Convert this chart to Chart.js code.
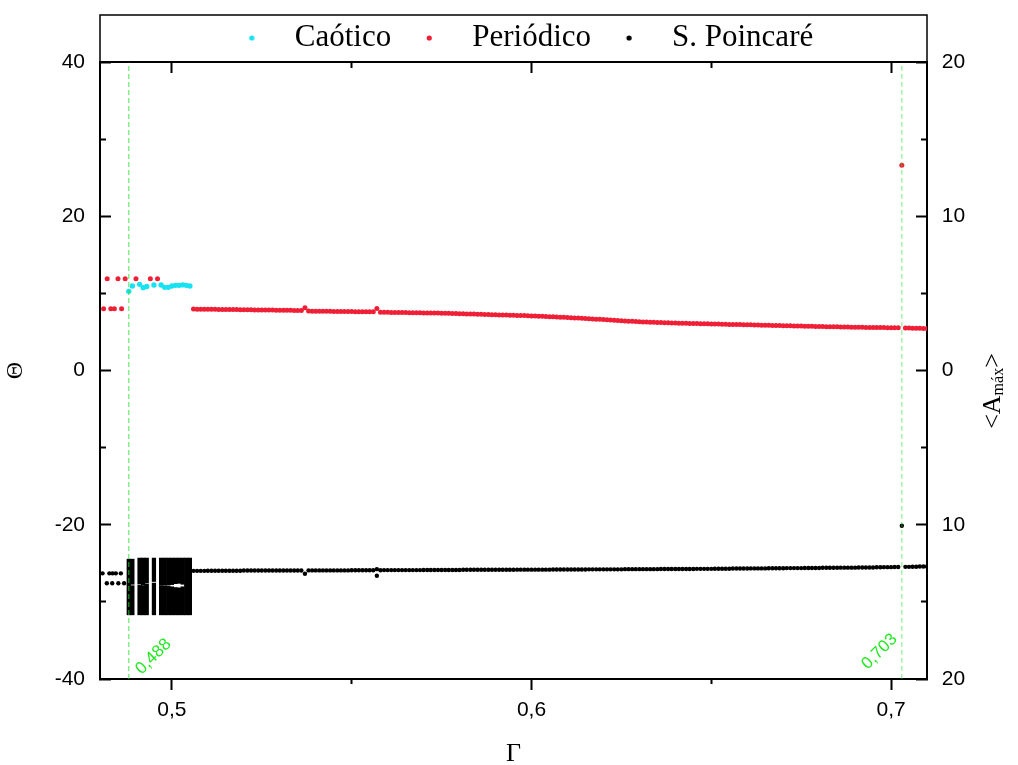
<!DOCTYPE html>
<html><head><meta charset="utf-8">
<script src="https://cdn.jsdelivr.net/npm/chart.js@4.4.1/dist/chart.umd.min.js"></script>
<style>html,body{margin:0;padding:0;background:#fff;}canvas{display:block;}</style>
</head><body>
<canvas id="c" width="1018" height="765"></canvas>
<script>
// ---------------- data ----------------
const seriesNames = ['Caótico', 'Periódico', 'S. Poincaré'];

const chaoticGamma = [0.488,0.489,0.491,0.492,0.493,0.495,0.497,0.498,0.499,0.500,0.501,0.502,0.503,0.504,0.505];
const chaoticTheta = [10.26,10.95,11.17,10.74,10.90,11.08,11.08,10.78,10.78,10.95,11.04,11.04,11.10,11.04,10.95];

const periodicLeftGamma = [0.481,0.482,0.483,0.484,0.485,0.486,0.487,0.490,0.494,0.496];
const periodicLeftTheta = [8.01,11.9,8.01,8.01,11.9,8.01,11.9,11.9,11.9,11.9];

const mainGamma = [
0.506,0.507,0.508,0.509,0.510,0.511,0.512,0.513,0.514,0.515,
0.516,0.517,0.518,0.519,0.520,0.521,0.522,0.523,0.524,0.525,
0.526,0.527,0.528,0.529,0.530,0.531,0.532,0.533,0.534,0.535,
0.536,0.537,0.538,0.539,0.540,0.541,0.542,0.543,0.544,0.545,
0.546,0.547,0.548,0.549,0.550,0.551,0.552,0.553,0.554,0.555,
0.556,0.557,0.558,0.559,0.560,0.561,0.562,0.563,0.564,0.565,
0.566,0.567,0.568,0.569,0.570,0.571,0.572,0.573,0.574,0.575,
0.576,0.577,0.578,0.579,0.580,0.581,0.582,0.583,0.584,0.585,
0.586,0.587,0.588,0.589,0.590,0.591,0.592,0.593,0.594,0.595,
0.596,0.597,0.598,0.599,0.600,0.601,0.602,0.603,0.604,0.605,
0.606,0.607,0.608,0.609,0.610,0.611,0.612,0.613,0.614,0.615,
0.616,0.617,0.618,0.619,0.620,0.621,0.622,0.623,0.624,0.625,
0.626,0.627,0.628,0.629,0.630,0.631,0.632,0.633,0.634,0.635,
0.636,0.637,0.638,0.639,0.640,0.641,0.642,0.643,0.644,0.645,
0.646,0.647,0.648,0.649,0.650,0.651,0.652,0.653,0.654,0.655,
0.656,0.657,0.658,0.659,0.660,0.661,0.662,0.663,0.664,0.665,
0.666,0.667,0.668,0.669,0.670,0.671,0.672,0.673,0.674,0.675,
0.676,0.677,0.678,0.679,0.680,0.681,0.682,0.683,0.684,0.685,
0.686,0.687,0.688,0.689,0.690,0.691,0.692,0.693,0.694,0.695,
0.696,0.697,0.698,0.699,0.700,0.701,0.702,0.703,0.704,0.705,
0.706,0.707,0.708,0.709,0.710];

const periodicMainTheta = [
7.96,7.95,7.95,7.94,7.94,7.93,7.93,7.92,7.92,7.91,
7.91,7.90,7.90,7.89,7.88,7.88,7.87,7.86,7.86,7.85,
7.84,7.84,7.83,7.82,7.82,7.81,7.80,7.80,7.79,7.78,
7.78,8.14,7.70,7.69,7.69,7.68,7.68,7.67,7.67,7.66,
7.66,7.65,7.65,7.64,7.64,7.63,7.63,7.62,7.62,7.61,
7.61,8.05,7.55,7.54,7.54,7.53,7.53,7.52,7.51,7.51,
7.50,7.49,7.49,7.48,7.47,7.46,7.46,7.45,7.44,7.43,
7.42,7.41,7.40,7.39,7.37,7.36,7.34,7.32,7.31,7.30,
7.28,7.27,7.26,7.24,7.23,7.21,7.20,7.19,7.17,7.16,
7.14,7.13,7.12,7.10,7.08,7.06,7.04,7.02,7.00,6.98,
6.96,6.94,6.92,6.90,6.88,6.85,6.82,6.80,6.77,6.75,
6.72,6.69,6.66,6.63,6.60,6.57,6.54,6.51,6.48,6.45,
6.42,6.39,6.37,6.34,6.32,6.30,6.28,6.26,6.24,6.22,
6.21,6.19,6.18,6.17,6.16,6.14,6.13,6.12,6.10,6.09,
6.08,6.07,6.06,6.05,6.04,6.03,6.02,6.00,5.99,5.98,
5.97,5.96,5.95,5.94,5.93,5.92,5.90,5.89,5.88,5.87,
5.86,5.85,5.84,5.83,5.81,5.80,5.79,5.78,5.77,5.76,
5.75,5.74,5.73,5.72,5.71,5.70,5.68,5.67,5.66,5.66,
5.65,5.64,5.63,5.62,5.62,5.61,5.60,5.59,5.58,5.58,
5.57,5.56,5.56,5.55,5.55,5.54,5.54,26.6,5.51,5.50,
5.49,5.48,5.47,5.46,5.45];

// S. Poincaré, right axis (<A_máx>, lower half of the mirrored axis)
const poincareMainA = [
-12.99,-12.99,-12.99,-12.99,-12.98,-12.98,-12.98,-12.98,-12.98,-12.98,
-12.98,-12.98,-12.98,-12.98,-12.97,-12.97,-12.97,-12.97,-12.97,-12.97,
-12.97,-12.97,-12.97,-12.97,-12.97,-12.97,-12.97,-12.97,-12.97,-12.97,
-12.97,-13.18,-12.96,-12.96,-12.96,-12.96,-12.96,-12.96,-12.96,-12.96,
-12.96,-12.96,-12.96,-12.96,-12.95,-12.95,-12.95,-12.95,-12.95,-12.95,
-12.95,-12.88,-12.95,-12.94,-12.94,-12.94,-12.94,-12.94,-12.94,-12.94,
-12.94,-12.94,-12.94,-12.94,-12.93,-12.93,-12.93,-12.93,-12.93,-12.93,
-12.93,-12.93,-12.93,-12.93,-12.93,-12.92,-12.92,-12.92,-12.92,-12.92,
-12.92,-12.92,-12.92,-12.92,-12.92,-12.92,-12.92,-12.92,-12.92,-12.92,
-12.91,-12.91,-12.91,-12.91,-12.91,-12.91,-12.91,-12.91,-12.91,-12.91,
-12.90,-12.90,-12.90,-12.90,-12.90,-12.90,-12.90,-12.90,-12.90,-12.90,
-12.89,-12.89,-12.89,-12.89,-12.89,-12.89,-12.89,-12.89,-12.89,-12.89,
-12.88,-12.88,-12.88,-12.88,-12.88,-12.88,-12.88,-12.88,-12.88,-12.88,
-12.87,-12.87,-12.87,-12.87,-12.87,-12.87,-12.87,-12.87,-12.87,-12.87,
-12.86,-12.86,-12.86,-12.86,-12.86,-12.85,-12.85,-12.85,-12.85,-12.85,
-12.84,-12.84,-12.84,-12.84,-12.84,-12.83,-12.83,-12.83,-12.83,-12.83,
-12.82,-12.82,-12.82,-12.82,-12.82,-12.81,-12.81,-12.81,-12.81,-12.81,
-12.80,-12.80,-12.80,-12.80,-12.80,-12.79,-12.79,-12.79,-12.79,-12.79,
-12.78,-12.78,-12.78,-12.78,-12.78,-12.77,-12.77,-12.77,-12.77,-12.77,
-12.76,-12.76,-12.75,-12.75,-12.75,-12.74,-12.74,-10.06,-12.73,-12.73,
-12.72,-12.72,-12.71,-12.71,-12.71];

const poincareExtraGamma = [0.4807,0.4819,0.4826,0.4834,0.4835,0.4844,0.4851,0.4858,0.4867,0.557];
const poincareExtraA = [-13.15,-13.79,-13.15,-13.79,-13.15,-13.15,-13.79,-13.15,-13.79,-13.31];

// dense Poincaré section of the chaotic window: range per Γ (top, gap, bottom)
const blockGamma     = [0.488,0.489,0.491,0.492,0.493,0.495,0.497,0.498,0.499,0.500,0.501,0.502,0.503,0.504,0.505];
const blockTop       = [-12.23,-12.23,-12.16,-12.16,-12.16,-12.16,-12.16,-12.16,-12.16,-12.16,-12.16,-12.16,-12.16,-12.16,-12.16];
const blockGapTop    = [-13.90,-13.86,-13.85,-13.89,-13.78,-13.68,-13.89,-13.91,-13.91,-13.88,-13.82,-13.80,-13.86,-13.90,-13.90];
const blockGapBottom = [-13.90,-13.95,-13.93,-13.94,-13.85,-13.78,-13.94,-13.96,-13.98,-14.02,-14.07,-14.09,-14.02,-13.90,-13.90];
const blockBottom    = [-15.84,-15.84,-15.84,-15.84,-15.84,-15.84,-15.84,-15.84,-15.84,-15.84,-15.84,-15.84,-15.84,-15.84,-15.84];

const refLineGamma  = [0.488, 0.703];
const refLineLabels = ['0,488', '0,703'];

// ticks
const xMajorTicks = [0.5, 0.6, 0.7];
const xTickLabels = ['0,5', '0,6', '0,7'];
const xMinorTicks = [0.55, 0.65];
const yMajorTicks = [-40, -20, 0, 20, 40];
const yTickLabels = ['-40', '-20', '0', '20', '40'];
const yMinorTicks = [-30, -10, 10, 30];
const y2MajorTicks = [-20, -10, 0, 10, 20];
const y2TickLabels = ['20', '10', '0', '10', '20'];
const y2MinorTicks = [-15, -5, 5, 15];

// ---------------- build ----------------
const C_CYAN = '#18e2f2', C_RED = '#ef1f36', C_BLACK = '#000000', C_GREEN = 'rgba(40,225,40,0.6)';
const pts = (xs, ys) => xs.map((x, i) => ({x: x, y: ys[i]}));
const setTicks = arr => s => { s.ticks = arr.map(v => ({value: v})); };
const sansTick = {family: "'Liberation Sans', Arial, sans-serif", size: 21};
const serif = "'Liberation Serif', 'Times New Roman', serif";

function dotImage(color) {
  const c = document.createElement('canvas');
  c.width = 24; c.height = 8;
  const g = c.getContext('2d');
  g.fillStyle = color; g.beginPath(); g.arc(17.25, 4, 2.6, 0, Math.PI * 2); g.fill();
  return c;
}
const legendDots = [dotImage(C_CYAN), dotImage(C_RED), dotImage(C_BLACK)];

const minorGrid = len => ({drawOnChartArea: false, offset: false, tickLength: len, tickWidth: 2, tickColor: '#000', color: '#000'});

const decor = {
  id: 'decor',
  afterDraw(chart) {
    const {ctx, chartArea, scales} = chart;
    ctx.save();
    // legend frame
    ctx.strokeStyle = '#000'; ctx.lineWidth = 1.5;
    ctx.strokeRect(chartArea.left, 15, chartArea.right - chartArea.left, chartArea.top - 15);
    // reference line labels
    ctx.fillStyle = '#22e822';
    ctx.font = "17px 'Liberation Sans', Arial, sans-serif";
    ctx.textAlign = 'left'; ctx.textBaseline = 'alphabetic';
    const offs = [[13, -4], [-34, -9]];
    refLineGamma.forEach((g, i) => {
      const px = scales.x.getPixelForValue(g);
      ctx.save();
      ctx.translate(px + offs[i][0], chartArea.bottom + offs[i][1]);
      ctx.rotate(-Math.PI / 4);
      ctx.fillText(refLineLabels[i], 0, 0);
      ctx.restore();
    });
    // right axis title <A_máx>
    ctx.fillStyle = '#000';
    ctx.translate(1000, 391);
    ctx.rotate(-Math.PI / 2);
    const big = "26px " + serif, small = "16px " + serif;
    ctx.font = big; const w1 = ctx.measureText('<A').width; const w3 = ctx.measureText('>').width;
    ctx.font = small; const w2 = ctx.measureText('máx').width;
    const x0 = -(w1 + w2 + w3) / 2;
    ctx.font = big; ctx.fillText('<A', x0, 0);
    ctx.font = small; ctx.fillText('máx', x0 + w1, 3);
    ctx.font = big; ctx.fillText('>', x0 + w1 + w2, 0);
    ctx.restore();
  }
};

new Chart(document.getElementById('c'), {
  type: 'scatter',
  data: {
    datasets: [
      {label: seriesNames[0], data: pts(chaoticGamma, chaoticTheta), yAxisID: 'y',
       backgroundColor: C_CYAN, pointRadius: 2.7, pointBorderWidth: 0},
      {label: seriesNames[1], data: pts(periodicLeftGamma.concat(mainGamma), periodicLeftTheta.concat(periodicMainTheta)), yAxisID: 'y',
       backgroundColor: C_RED, pointRadius: 2.5, pointBorderWidth: 0},
      {label: seriesNames[2], data: pts(poincareExtraGamma.concat(mainGamma), poincareExtraA.concat(poincareMainA)), yAxisID: 'y2',
       backgroundColor: C_BLACK, pointRadius: 2.2, pointBorderWidth: 0},
      {type: 'bar', label: 'block-upper', data: blockGamma.map((g, i) => ({x: g, y: [blockTop[i], blockGapTop[i]]})),
       yAxisID: 'y2', xAxisID: 'x', backgroundColor: C_BLACK, borderWidth: 0, grouped: false,
       barPercentage: 1, categoryPercentage: 1, order: 1},
      {type: 'bar', label: 'block-lower', data: blockGamma.map((g, i) => ({x: g, y: [blockGapBottom[i], blockBottom[i]]})),
       yAxisID: 'y2', xAxisID: 'x', backgroundColor: C_BLACK, borderWidth: 0, grouped: false,
       barPercentage: 1, categoryPercentage: 1, order: 1},
      {label: 'ref1', data: pts([refLineGamma[0], refLineGamma[0]], [-40, 40]), yAxisID: 'y', showLine: true,
       borderColor: C_GREEN, borderWidth: 1.4, borderDash: [5, 3], pointRadius: 0, order: -1},
      {label: 'ref2', data: pts([refLineGamma[1], refLineGamma[1]], [-40, 40]), yAxisID: 'y', showLine: true,
       borderColor: C_GREEN, borderWidth: 1, borderDash: [5, 3], pointRadius: 0, order: -1}
    ]
  },
  options: {
    responsive: false, animation: false, devicePixelRatio: 1,
    layout: {padding: {left: 9, top: 22.5, right: 0, bottom: 0}},
    plugins: {
      tooltip: {enabled: false},
      legend: {
        position: 'top', align: 'center', maxHeight: 39.5,
        labels: {
          usePointStyle: true, pointStyleWidth: 65.5, padding: 0, color: '#000',
          font: {family: serif, size: 31},
          filter: item => item.datasetIndex <= 2,
          generateLabels: chart => {
            const items = Chart.defaults.plugins.legend.labels.generateLabels(chart);
            items.forEach(it => { if (it.datasetIndex <= 2) it.pointStyle = legendDots[it.datasetIndex]; });
            return items;
          }
        }
      }
    },
    scales: {
      x: {type: 'linear', position: 'bottom', weight: 1, min: 0.48, max: 0.71, offset: false,
          afterBuildTicks: setTicks(xMajorTicks), afterFit: s => { s.height = 86; },
          ticks: {callback: v => xTickLabels[xMajorTicks.indexOf(v)], font: sansTick, color: '#000', padding: 7.5, maxRotation: 0, autoSkip: false},
          grid: minorGrid(11),
          border: {display: true, color: '#000', width: 2},
          title: {display: true, text: 'Γ', color: '#000', font: {family: serif, size: 26, lineHeight: 1}, padding: {top: 0, bottom: -2}}},
      xMinor: {type: 'linear', position: 'bottom', weight: 0, min: 0.48, max: 0.71, offset: false,
          afterBuildTicks: setTicks(xMinorTicks), afterFit: s => { s.height = 0; },
          ticks: {display: false}, grid: minorGrid(5), border: {display: false}},
      xTop: {type: 'linear', position: 'top', weight: 1, min: 0.48, max: 0.71, offset: false,
          afterBuildTicks: setTicks(xMajorTicks), afterFit: s => { s.height = 0; },
          ticks: {display: false}, grid: minorGrid(-11), border: {display: true, color: '#000', width: 2}},
      xTopMinor: {type: 'linear', position: 'top', weight: 0, min: 0.48, max: 0.71, offset: false,
          afterBuildTicks: setTicks(xMinorTicks), afterFit: s => { s.height = 0; },
          ticks: {display: false}, grid: minorGrid(-6), border: {display: false}},
      y: {type: 'linear', position: 'left', weight: 1, min: -40, max: 40,
          afterBuildTicks: setTicks(yMajorTicks), afterFit: s => { s.width = 91; },
          ticks: {callback: v => yTickLabels[yMajorTicks.indexOf(v)], font: sansTick, color: '#000', padding: 26, autoSkip: false},
          grid: minorGrid(-11),
          border: {display: true, color: '#000', width: 2},
          title: {display: true, text: 'Θ', color: '#000', font: {family: serif, size: 24, lineHeight: 1}, padding: {top: -5, bottom: 0}}},
      yMinor: {type: 'linear', position: 'left', weight: 0, min: -40, max: 40,
          afterBuildTicks: setTicks(yMinorTicks), afterFit: s => { s.width = 0; },
          ticks: {display: false}, grid: minorGrid(-6), border: {display: false}},
      y2: {type: 'linear', position: 'right', weight: 1, min: -20, max: 20,
          afterBuildTicks: setTicks(y2MajorTicks), afterFit: s => { s.width = 91; },
          ticks: {callback: v => y2TickLabels[y2MajorTicks.indexOf(v)], font: sansTick, color: '#000', padding: 25.7, autoSkip: false},
          grid: minorGrid(-11),
          border: {display: true, color: '#000', width: 2}},
      y2Minor: {type: 'linear', position: 'right', weight: 0, min: -20, max: 20,
          afterBuildTicks: setTicks(y2MinorTicks), afterFit: s => { s.width = 0; },
          ticks: {display: false}, grid: minorGrid(-6), border: {display: false}}
    }
  },
  plugins: [decor]
});
</script>
</body></html>
